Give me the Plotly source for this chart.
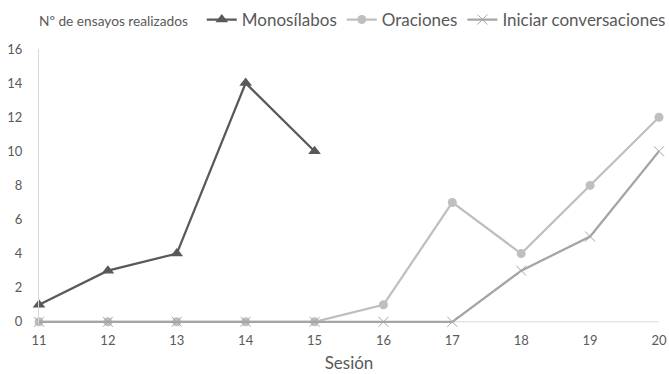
import plotly.graph_objects as go

sesiones = [11, 12, 13, 14, 15, 16, 17, 18, 19, 20]
monosilabos = [1, 3, 4, 14, 10, None, None, None, None, None]
oraciones = [0, 0, 0, 0, 0, 1, 7, 4, 8, 12]
iniciar = [0, 0, 0, 0, 0, 0, 0, 3, 5, 10]
y_ticks = [0, 2, 4, 6, 8, 10, 12, 14, 16]

FONT = "Lato, Liberation Sans, Arial"
fig = go.Figure()
fig.add_trace(go.Scatter(
    x=sesiones, y=monosilabos, name="Monosílabos", mode="lines+markers",
    line=dict(color="#595959", width=2.25), cliponaxis=False,
    marker=dict(symbol="triangle-up", size=11, color="#595959"),
))
fig.add_trace(go.Scatter(
    x=sesiones, y=oraciones, name="Oraciones", mode="lines+markers",
    line=dict(color="#BFBFBF", width=2.25), cliponaxis=False,
    marker=dict(symbol="circle", size=9, color="#BFBFBF"),
))
fig.add_trace(go.Scatter(
    x=sesiones, y=iniciar, name="Iniciar conversaciones", mode="lines+markers",
    line=dict(color="#A5A5A5", width=2.25), cliponaxis=False,
    marker=dict(symbol="x-thin", size=10, line=dict(color="#A5A5A5", width=1)),
))

fig.update_layout(
    width=669, height=374,
    margin=dict(l=39, r=10, t=49, b=51, autoexpand=False),
    plot_bgcolor="white", paper_bgcolor="white",
    font=dict(family=FONT, color="#595959", size=12),
    showlegend=True,
    legend=dict(orientation="h", x=1.019, xanchor="right", y=1.106, yanchor="middle",
                font=dict(size=17, color="#595959"),
                itemwidth=30, tracegroupgap=0, traceorder="normal"),
    xaxis=dict(
        range=[11, 20], tickvals=sesiones, showgrid=False, zeroline=False,
        showline=False, ticks="", tickfont=dict(size=13, color="#595959"),
        automargin=False, ticklabelstandoff=8,
        title=dict(text="Sesión", font=dict(size=17, color="#595959"), standoff=10),
    ),
    yaxis=dict(
        range=[-0.07, 16], tickvals=y_ticks, showgrid=False, zeroline=False,
        showline=True, linecolor="#D9D9D9", linewidth=1, ticks="",
        automargin=False,
        tickfont=dict(size=13, color="#595959"), ticklabelstandoff=13,
    ),
    annotations=[dict(
        text="Nº de ensayos realizados", xref="paper", yref="paper",
        x=0, xshift=-2, y=1.0, yshift=29, xanchor="left", yanchor="middle",
        showarrow=False, font=dict(size=13.7, color="#595959"),
    )],
    shapes=[dict(type="line", xref="paper", yref="y", x0=0, x1=1, y0=0, y1=0,
                 line=dict(color="#D9D9D9", width=1), layer="below")],
)
fig.write_html("out.html", config={"displayModeBar": False},
               post_script="document.body.style.margin='0';")
